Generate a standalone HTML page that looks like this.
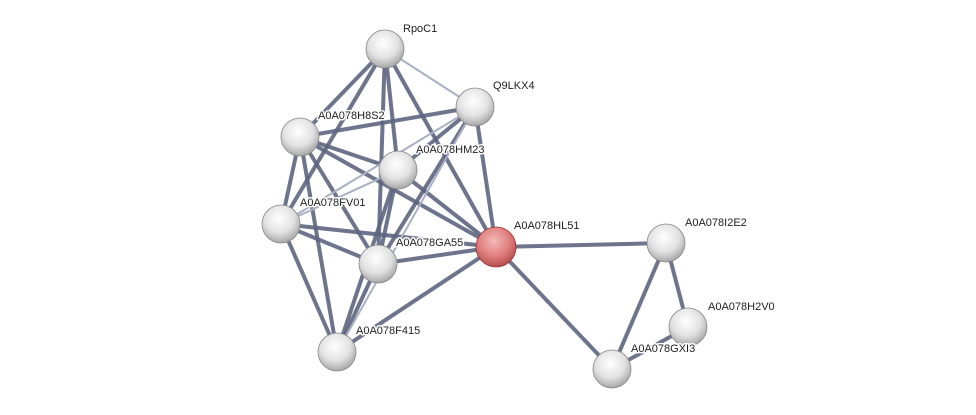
<!DOCTYPE html>
<html><head><style>body{margin:0;background:#fff}svg{display:block}text{font-family:"Liberation Sans",sans-serif;font-size:11px;fill:#222;stroke:#fff;stroke-width:3px;paint-order:stroke;stroke-linejoin:round}</style></head><body>
<svg width="976" height="415" viewBox="0 0 976 415">
<defs>
<radialGradient id="g" cx="0.45" cy="0.35" r="0.7"><stop offset="0" stop-color="#ffffff"/><stop offset="0.55" stop-color="#e2e2e2"/><stop offset="1" stop-color="#9c9c9c"/></radialGradient>
<radialGradient id="r" cx="0.45" cy="0.35" r="0.7"><stop offset="0" stop-color="#f4b8b8"/><stop offset="0.55" stop-color="#e07e7e"/><stop offset="1" stop-color="#a94444"/></radialGradient>
</defs>
<g stroke="#5d6580" stroke-width="4" stroke-opacity="0.9">
<line x1="385" y1="49" x2="300" y2="137"/><line x1="385" y1="49" x2="281" y2="224"/><line x1="385" y1="49" x2="378" y2="264"/><line x1="385" y1="49" x2="398" y2="170"/><line x1="385" y1="49" x2="496" y2="247"/>
<line x1="475" y1="107" x2="300" y2="137"/><line x1="475" y1="107" x2="378" y2="264"/><line x1="475" y1="107" x2="496" y2="247"/><line x1="475" y1="107" x2="398" y2="170"/>
<line x1="300" y1="137" x2="281" y2="224"/><line x1="300" y1="137" x2="337" y2="352"/><line x1="300" y1="137" x2="378" y2="264"/><line x1="300" y1="137" x2="398" y2="170"/><line x1="300" y1="137" x2="496" y2="247"/>
<line x1="398" y1="170" x2="378" y2="264"/><line x1="398" y1="170" x2="337" y2="352"/><line x1="398" y1="170" x2="496" y2="247"/>
<line x1="281" y1="224" x2="378" y2="264"/><line x1="281" y1="224" x2="496" y2="247"/><line x1="281" y1="224" x2="337" y2="352"/>
<line x1="378" y1="264" x2="496" y2="247"/><line x1="378" y1="264" x2="337" y2="352"/><line x1="337" y1="352" x2="496" y2="247"/>
<line x1="496" y1="247" x2="666" y2="243"/><line x1="496" y1="247" x2="612" y2="369"/><line x1="666" y1="243" x2="688" y2="327"/><line x1="666" y1="243" x2="612" y2="369"/><line x1="688" y1="327" x2="612" y2="369"/>
</g>
<g stroke="#aab0c4" stroke-width="2">
<line x1="385" y1="49" x2="475" y2="107"/><line x1="475" y1="107" x2="281" y2="224"/><line x1="475" y1="107" x2="337" y2="352"/><line x1="398" y1="170" x2="281" y2="224"/>
</g>
<g stroke="#888" stroke-width="0.8">
<circle cx="385" cy="49" r="19" fill="url(#g)"/><circle cx="475" cy="107" r="19" fill="url(#g)"/><circle cx="300" cy="137" r="19" fill="url(#g)"/><circle cx="398" cy="170" r="19" fill="url(#g)"/><circle cx="281" cy="224" r="19" fill="url(#g)"/><circle cx="378" cy="264" r="19" fill="url(#g)"/><circle cx="337" cy="352" r="19" fill="url(#g)"/><circle cx="666" cy="243" r="19" fill="url(#g)"/><circle cx="688" cy="327" r="19" fill="url(#g)"/><circle cx="612" cy="369" r="19" fill="url(#g)"/>
<circle cx="496" cy="247" r="20" fill="url(#r)" stroke="#993333"/>
</g>
<text x="403" y="32">RpoC1</text><text x="493" y="89">Q9LKX4</text><text x="318" y="119">A0A078H8S2</text><text x="416" y="153">A0A078HM23</text><text x="300" y="206">A0A078FV01</text><text x="396" y="246">A0A078GA55</text><text x="514" y="229">A0A078HL51</text><text x="685" y="226">A0A078I2E2</text><text x="708" y="310">A0A078H2V0</text><text x="631" y="352">A0A078GXI3</text><text x="356" y="334">A0A078F415</text>
</svg>
</body></html>
